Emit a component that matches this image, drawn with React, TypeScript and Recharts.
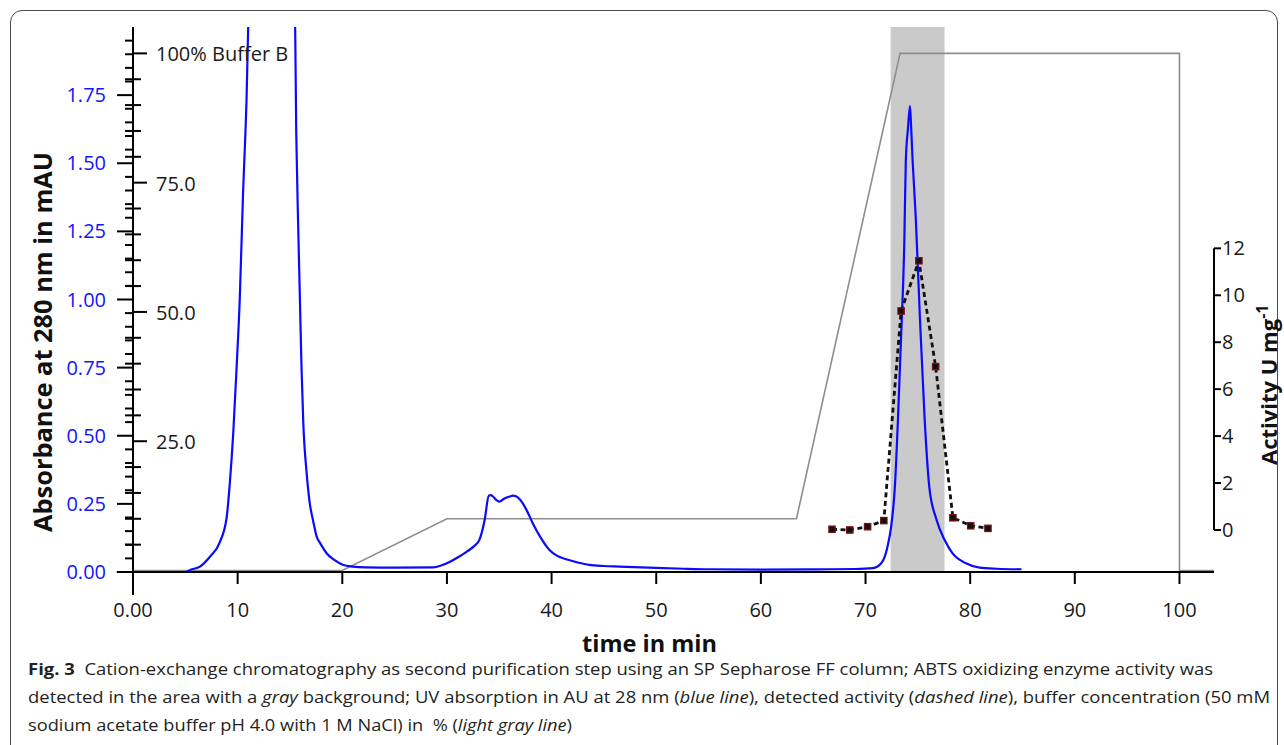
import React from 'react';
import { LineChart, Line, XAxis, YAxis, ReferenceArea, ReferenceLine } from 'recharts';

const FONT = '"Open Sans", "Noto Sans", sans-serif';

// UV absorbance (AU) vs time (min)
const absTimes = [0, 5.0, 5.5, 6.4, 7.35, 8.3, 8.95, 9.26, 9.58, 9.9, 10.2, 10.5, 10.85, 11.2, 12.2, 13.3, 14.4, 15.4, 15.6, 15.8, 15.95, 16.1, 16.27, 16.6, 16.9, 17.2, 17.55, 17.9, 18.5, 19.2, 20.1, 21.0, 22.3, 25.0, 28.7, 29.5, 30.3, 31.1, 31.9, 32.6, 33.1, 33.6, 34.0, 34.2, 34.4, 34.7, 35.0, 35.5, 36.0, 36.3, 36.6, 37.0, 37.6, 38.2, 38.9, 39.8, 40.5, 41.4, 42.5, 43.6, 45.0, 46.5, 50.0, 52.6, 55.0, 60.0, 65.6, 69.0, 70.7, 71.5, 72.1, 72.45, 72.8, 73.1, 73.4, 73.7, 73.85, 74.05, 74.25, 74.35, 74.5, 74.8, 75.2, 75.65, 76.1, 76.8, 77.55, 78.3, 79.6, 80.9, 82.5, 84.9];
const absValues = [0, 0.0, 0.008, 0.02, 0.056, 0.11, 0.2, 0.33, 0.51, 0.75, 1.0, 1.37, 1.735, 2.3, 2.8, 3.0, 2.8, 2.3, 1.61, 1.245, 1.0, 0.755, 0.55, 0.36, 0.25, 0.19, 0.13, 0.105, 0.069, 0.045, 0.026, 0.02, 0.017, 0.016, 0.017, 0.025, 0.038, 0.055, 0.075, 0.095, 0.118, 0.19, 0.28, 0.282, 0.277, 0.265, 0.258, 0.27, 0.277, 0.28, 0.278, 0.265, 0.228, 0.179, 0.13, 0.081, 0.06, 0.047, 0.035, 0.026, 0.022, 0.02, 0.015, 0.012, 0.01, 0.009, 0.01, 0.011, 0.014, 0.032, 0.093, 0.167, 0.31, 0.56, 0.865, 1.2, 1.51, 1.625, 1.71, 1.64, 1.51, 1.3, 0.93, 0.56, 0.31, 0.19, 0.118, 0.069, 0.032, 0.016, 0.012, 0.01];

// Buffer B (%) gradient
const bufTimes = [0, 20, 30, 63.4, 73.3, 100, 100, 103.3];
const bufValues = [0, 0, 10, 10, 100, 100, 0, 0];

// Activity (U mg-1)
const actTimes = [66.8, 68.5, 70.2, 71.75, 73.4, 75.1, 76.7, 78.35, 80.05, 81.7];
const actValues = [0.03, 0.0, 0.14, 0.4, 9.33, 11.47, 6.96, 0.52, 0.18, 0.07];

// Axes
const xTicks = [0, 10, 20, 30, 40, 50, 60, 70, 80, 90, 100];
const xTickLabels = ['0.00', '10', '20', '30', '40', '50', '60', '70', '80', '90', '100'];
const absMajorTicks = [0, 0.25, 0.5, 0.75, 1, 1.25, 1.5, 1.75];
const absMajorLabels = ['0.00', '0.25', '0.50', '0.75', '1.00', '1.25', '1.50', '1.75'];
const absMinorTicks = [0.05, 0.1, 0.15, 0.2, 0.3, 0.35, 0.4, 0.45, 0.55, 0.6, 0.65, 0.7, 0.8, 0.85, 0.9, 0.95, 1.05, 1.1, 1.15, 1.2, 1.3, 1.35, 1.4, 1.45, 1.55, 1.6, 1.65, 1.7, 1.8, 1.85, 1.9, 1.95];
const bufMajorTicks = [25, 50, 75, 100];
const bufMajorLabels = ['25.0', '50.0', '75.0', '100% Buffer B'];
const bufMinorTicks = [5, 10, 15, 20, 30, 35, 40, 45, 55, 60, 65, 70, 80, 85, 90, 95];
const actTicks = [0, 2, 4, 6, 8, 10, 12];
const actTickLabels = ['0', '2', '4', '6', '8', '10', '12'];

// Shaded active fraction
const activeFrom = 72.4;
const activeTo = 77.55;

const X_DOMAIN: [number, number] = [0, 103.3];
const X_LEFT_STUB = -1.55;

const absData = absTimes.map((t, i) => ({ t, v: absValues[i] }));
const bufData = bufTimes.map((t, i) => ({ t, v: bufValues[i] }));
const actData = actTimes.map((t, i) => ({ t, v: actValues[i] }));

const absTickAll = [...absMajorTicks, ...absMinorTicks].sort((a, b) => a - b);
const bufTickAll = [...bufMajorTicks, ...bufMinorTicks].sort((a, b) => a - b);

const findIdx = (arr: number[], v: number) => arr.findIndex((a) => Math.abs(a - v) < 1e-6);

const XTick = (p: any) => {
  const { x, y, payload } = p;
  const i = findIdx(xTicks, payload.value);
  const len = payload.value === 0 ? 23 : 12;
  return (
    <g>
      <line x1={x} x2={x} y1={y} y2={y + len} stroke="#000" strokeWidth={2} />
      <text x={x} y={y + 45} textAnchor="middle" fontFamily={FONT} fontSize={20} fill="#1a1a1a">
        {i >= 0 ? xTickLabels[i] : ''}
      </text>
    </g>
  );
};

const AbsTick = (p: any) => {
  const { x, y, payload } = p;
  const i = findIdx(absMajorTicks, payload.value);
  if (i >= 0) {
    return (
      <g>
        <line x1={x - 16} x2={x} y1={y} y2={y} stroke="#000" strokeWidth={2} />
        <text x={x - 27} y={y + 7} textAnchor="end" fontFamily={FONT} fontSize={20} fill="#1414ff">
          {absMajorLabels[i]}
        </text>
      </g>
    );
  }
  return <line x1={x - 8} x2={x} y1={y} y2={y} stroke="#000" strokeWidth={2} />;
};

const BufTick = (p: any) => {
  const { x, y, payload } = p;
  const i = findIdx(bufMajorTicks, payload.value);
  if (i >= 0) {
    return (
      <g>
        <line x1={x} x2={x + 14} y1={y} y2={y} stroke="#000" strokeWidth={2} />
        <text x={x + 23} y={y + 8} textAnchor="start" fontFamily={FONT} fontSize={20} fill="#1a1a1a">
          {bufMajorLabels[i]}
        </text>
      </g>
    );
  }
  return <line x1={x - 8} x2={x + 8} y1={y} y2={y} stroke="#000" strokeWidth={2} />;
};

const ActTick = (p: any) => {
  const { x, y, payload } = p;
  const i = findIdx(actTicks, payload.value);
  return (
    <g>
      <line x1={x} x2={x + 7} y1={y} y2={y} stroke="#000" strokeWidth={2} />
      <text x={x + 8} y={y + 7} textAnchor="start" fontFamily={FONT} fontSize={20} fill="#1a1a1a">
        {i >= 0 ? actTickLabels[i] : ''}
      </text>
    </g>
  );
};

const SquareDot = (p: any) => {
  const { cx, cy, index } = p;
  if (cx == null || cy == null) return <g key={`e${index}`} />;
  return (
    <rect key={`d${index}`} x={cx - 3.2} y={cy - 3.2} width={6.4} height={6.4} fill="#141010" stroke="#7a1414" strokeWidth={1.2} />
  );
};

export default function App() {
  return (
    <div style={{ position: 'absolute', left: 0, top: 0, width: 1284, height: 745, overflow: 'hidden', background: '#fff' }}>
      <div
        style={{
          position: 'absolute',
          left: 10,
          top: 10,
          width: 1268,
          height: 800,
          border: '1.5px solid #4a4a4a',
          borderRadius: 12,
          boxSizing: 'border-box',
        }}
      />
      <div style={{ position: 'absolute', left: 0, top: 0 }}>
        <LineChart width={1284} height={660} margin={{ top: 27, right: 0, left: 123, bottom: 48 }}>
          <XAxis
            type="number"
            dataKey="t"
            domain={X_DOMAIN}
            ticks={xTicks}
            interval={0}
            height={40}
            tickSize={0}
            tickMargin={0}
            tickLine={false}
            axisLine={{ stroke: '#000', strokeWidth: 2 }}
            tick={(p: any) => <XTick {...p} />}
          />
          <YAxis
            yAxisId="abs"
            type="number"
            domain={[0, 2]}
            allowDataOverflow
            ticks={absTickAll}
            interval={0}
            width={10}
            tickSize={0}
            tickMargin={0}
            tickLine={false}
            axisLine={{ stroke: '#000', strokeWidth: 2 }}
            tick={(p: any) => <AbsTick {...p} />}
          />
          <YAxis
            yAxisId="buf"
            type="number"
            orientation="left"
            mirror
            domain={[-0.29, 105.1]}
            ticks={bufTickAll}
            interval={0}
            tickSize={0}
            tickMargin={0}
            tickLine={false}
            axisLine={false}
            tick={(p: any) => <BufTick {...p} />}
          />
          <YAxis
            yAxisId="act"
            type="number"
            orientation="right"
            domain={[-1.79, 21.43]}
            ticks={actTicks}
            interval={0}
            width={70}
            tickSize={0}
            tickMargin={0}
            tickLine={false}
            axisLine={false}
            tick={(p: any) => <ActTick {...p} />}
          />
          <ReferenceArea
            yAxisId="abs"
            x1={activeFrom}
            x2={activeTo}
            fill="#cacaca"
            fillOpacity={1}
            stroke="none"
          />
          <ReferenceLine
            yAxisId="abs"
            segment={[{ x: X_LEFT_STUB, y: 0 }, { x: 0, y: 0 }]}
            ifOverflow="visible"
            stroke="#000"
            strokeWidth={2}
          />
          <ReferenceLine
            yAxisId="act"
            segment={[{ x: X_DOMAIN[1], y: actTicks[0] }, { x: X_DOMAIN[1], y: actTicks[actTicks.length - 1] }]}
            ifOverflow="visible"
            stroke="#000"
            strokeWidth={2}
          />
          <Line
            yAxisId="buf"
            data={bufData}
            dataKey="v"
            type="linear"
            stroke="#8e8e8e"
            strokeWidth={1.6}
            dot={false}
            activeDot={false}
            isAnimationActive={false}
          />
          <Line
            yAxisId="abs"
            data={absData}
            dataKey="v"
            type="monotone"
            stroke="#0a0aff"
            strokeWidth={2.2}
            dot={false}
            activeDot={false}
            isAnimationActive={false}
          />
          <Line
            yAxisId="act"
            data={actData}
            dataKey="v"
            type="linear"
            stroke="#111"
            strokeWidth={2.8}
            strokeDasharray="5 3.5"
            dot={(p: any) => <SquareDot {...p} />}
            activeDot={false}
            isAnimationActive={false}
          />
        </LineChart>
      </div>
      <svg width={1284} height={745} style={{ position: 'absolute', left: 0, top: 0, pointerEvents: 'none' }}>
        <text
          transform="translate(52,342) rotate(-90)"
          textAnchor="middle"
          fontFamily={FONT}
          fontWeight={700}
          fontSize={25}
          fill="#111"
          textLength={380}
          lengthAdjust="spacingAndGlyphs"
        >
          Absorbance at 280 nm in mAU
        </text>
        <text
          x={649.5}
          y={652}
          textAnchor="middle"
          fontFamily={FONT}
          fontWeight={700}
          fontSize={23}
          fill="#111"
          textLength={135}
          lengthAdjust="spacingAndGlyphs"
        >
          time in min
        </text>
        <text transform="translate(1277,465) rotate(-90)" fontFamily={FONT} fontWeight={700} fontSize={22} fill="#111">
          Activity U mg
          <tspan dy={-9} fontSize={16}>-1</tspan>
        </text>
        <g fontFamily={FONT} fontSize={16.5} fill="#231f20">
          <text x={28} y={675} textLength={1185} lengthAdjust="spacingAndGlyphs" xmlSpace="preserve" style={{ whiteSpace: 'pre' }}>
            <tspan fontWeight={700}>Fig. 3</tspan>
            <tspan>{'  Cation-exchange chromatography as second purification step using an SP Sepharose FF column; ABTS oxidizing enzyme activity was'}</tspan>
          </text>
          <text x={28} y={703} textLength={1242} lengthAdjust="spacingAndGlyphs" xmlSpace="preserve" style={{ whiteSpace: 'pre' }}>
            <tspan>{'detected in the area with a '}</tspan>
            <tspan fontStyle="italic">gray</tspan>
            <tspan>{' background; UV absorption in AU at 28 nm ('}</tspan>
            <tspan fontStyle="italic">blue line</tspan>
            <tspan>{'), detected activity ('}</tspan>
            <tspan fontStyle="italic">dashed line</tspan>
            <tspan>{'), buffer concentration (50 mM'}</tspan>
          </text>
          <text x={28} y={731} textLength={544} lengthAdjust="spacingAndGlyphs" xmlSpace="preserve" style={{ whiteSpace: 'pre' }}>
            <tspan>{'sodium acetate buffer pH 4.0 with 1 M NaCl) in  % ('}</tspan>
            <tspan fontStyle="italic">light gray line</tspan>
            <tspan>)</tspan>
          </text>
        </g>
      </svg>
    </div>
  );
}
